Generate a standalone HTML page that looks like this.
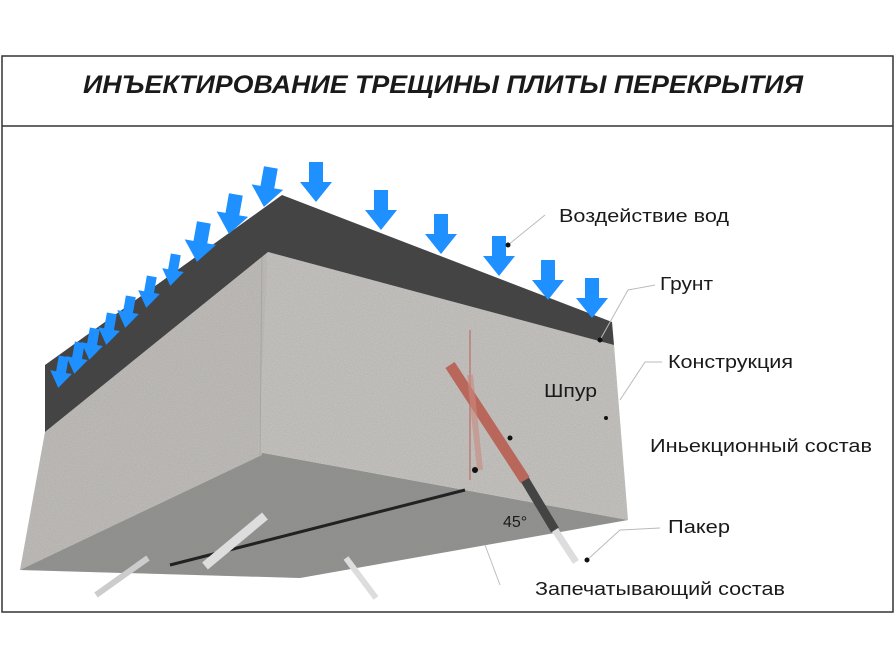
<!DOCTYPE html>
<html><head><meta charset="utf-8"><style>
html,body{margin:0;padding:0;background:#fff;}
svg{display:block;}
text{font-family:"Liberation Sans",sans-serif;fill:#1a1a1a;}
</style></head><body>
<svg width="896" height="671" viewBox="0 0 896 671" xmlns="http://www.w3.org/2000/svg">
<defs>
<filter id="grain" x="0" y="0" width="100%" height="100%">
<feTurbulence type="fractalNoise" baseFrequency="0.9" numOctaves="2" seed="3" result="n"/>
<feColorMatrix in="n" type="matrix" values="0 0 0 0 0.3  0 0 0 0 0.3  0 0 0 0 0.3  0 0 0 0.5 0" result="g"/>
<feComposite in="g" in2="SourceGraphic" operator="in" result="gg"/>
<feMerge><feMergeNode in="SourceGraphic"/><feMergeNode in="gg"/></feMerge>
</filter>
<g id="arr"><path d="M-7,-28 L7,-28 L7,-8 L16,-8 L0,12 L-16,-8 L-7,-8 Z" fill="#1e90ff"/></g>
<g id="arr2"><path d="M-5,-22 L5,-22 L5,-6 L11,-6 L0,10 L-11,-6 L-5,-6 Z" fill="#1e90ff"/></g>
</defs>
<rect x="2" y="56" width="891" height="556" fill="#fff" stroke="#333" stroke-width="1.5"/>
<line x1="2" y1="126" x2="893" y2="126" stroke="#333" stroke-width="1.5"/>
<text x="443" y="93" text-anchor="middle" font-size="25" font-weight="bold" font-style="italic" textLength="720" lengthAdjust="spacingAndGlyphs">ИНЪЕКТИРОВАНИЕ ТРЕЩИНЫ ПЛИТЫ ПЕРЕКРЫТИЯ</text>

<polygon points="20,570 258,452 628,520 300,578" fill="#8e8e8b" filter="url(#grain)"/>
<polygon points="45,432 268,252 262,455 20,570" fill="#c2bfbb" filter="url(#grain)"/>
<polygon points="268,252 614,345 628,520 258,452" fill="#c9c6c2" filter="url(#grain)"/>
<line x1="262" y1="252" x2="260" y2="455" stroke="#a9a6a2" stroke-width="1"/>
<polygon points="45,365 282,195 612,322 614,345 268,252 45,432" fill="#444444"/>

<polyline points="170,565 465,490" stroke="#222" stroke-width="3" fill="none"/>
<line x1="450" y1="365" x2="525" y2="480" stroke="#b8675a" stroke-width="11"/>
<line x1="470" y1="330" x2="470" y2="480" stroke="#b8675a" stroke-width="1.5" opacity="0.7"/>
<line x1="470" y1="375" x2="480" y2="470" stroke="#c98a80" stroke-width="6" opacity="0.6"/>
<line x1="525" y1="480" x2="555" y2="530" stroke="#444" stroke-width="9"/>
<line x1="555" y1="530" x2="576" y2="562" stroke="#ddd" stroke-width="7"/>
<line x1="265" y1="516" x2="205" y2="566" stroke="#ddd" stroke-width="9"/>
<line x1="148" y1="558" x2="96" y2="595" stroke="#ccc" stroke-width="6"/>
<line x1="346" y1="558" x2="376" y2="598" stroke="#ddd" stroke-width="6"/>
<text x="503" y="527" font-size="16">45°</text>

<use href="#arr" x="316" y="190"/>
<use href="#arr" x="381" y="218"/>
<use href="#arr" x="441" y="242"/>
<use href="#arr" x="499" y="264"/>
<use href="#arr" x="548" y="288"/>
<use href="#arr" x="592" y="306"/>
<use href="#arr" x="266" y="195" transform="rotate(10 266 195)"/>
<use href="#arr" x="231" y="222" transform="rotate(10 231 222)"/>
<use href="#arr" x="199" y="250" transform="rotate(10 199 250)"/>
<use href="#arr2" x="172" y="276" transform="rotate(10 172 276)"/>
<use href="#arr2" x="148" y="298" transform="rotate(10 148 298)"/>
<use href="#arr2" x="127" y="318" transform="rotate(10 127 318)"/>
<use href="#arr2" x="108" y="335" transform="rotate(10 108 335)"/>
<use href="#arr2" x="91" y="350" transform="rotate(10 91 350)"/>
<use href="#arr2" x="76" y="364" transform="rotate(10 76 364)"/>
<use href="#arr2" x="60" y="378" transform="rotate(10 60 378)"/>

<g stroke="#bbb" stroke-width="1" fill="none">
<polyline points="508,245 545,215"/>
<polyline points="600,340 628,290 655,285"/>
<polyline points="620,400 645,362 662,362"/>
<polyline points="587,560 620,530 660,528"/>
<polyline points="485,545 500,585"/>
</g>
<circle cx="508" cy="245" r="2.5" fill="#111"/>
<circle cx="600" cy="340" r="2.5" fill="#111"/>
<circle cx="606" cy="418" r="2" fill="#111"/>
<circle cx="510" cy="438" r="2.5" fill="#111"/>
<circle cx="475" cy="470" r="3" fill="#111"/>
<circle cx="587" cy="560" r="2.5" fill="#111"/>

<text x="559" y="222" font-size="18" textLength="170" lengthAdjust="spacingAndGlyphs">Воздействие вод</text>
<text x="660" y="290" font-size="18" textLength="53" lengthAdjust="spacingAndGlyphs">Грунт</text>
<text x="668" y="368" font-size="18" textLength="125" lengthAdjust="spacingAndGlyphs">Конструкция</text>
<text x="544" y="397" font-size="18" textLength="53" lengthAdjust="spacingAndGlyphs">Шпур</text>
<text x="650" y="452" font-size="18" textLength="222" lengthAdjust="spacingAndGlyphs">Иньекционный состав</text>
<text x="668" y="533" font-size="18" textLength="62" lengthAdjust="spacingAndGlyphs">Пакер</text>
<text x="535" y="595" font-size="18" textLength="250" lengthAdjust="spacingAndGlyphs">Запечатывающий состав</text>
</svg>
</body></html>
